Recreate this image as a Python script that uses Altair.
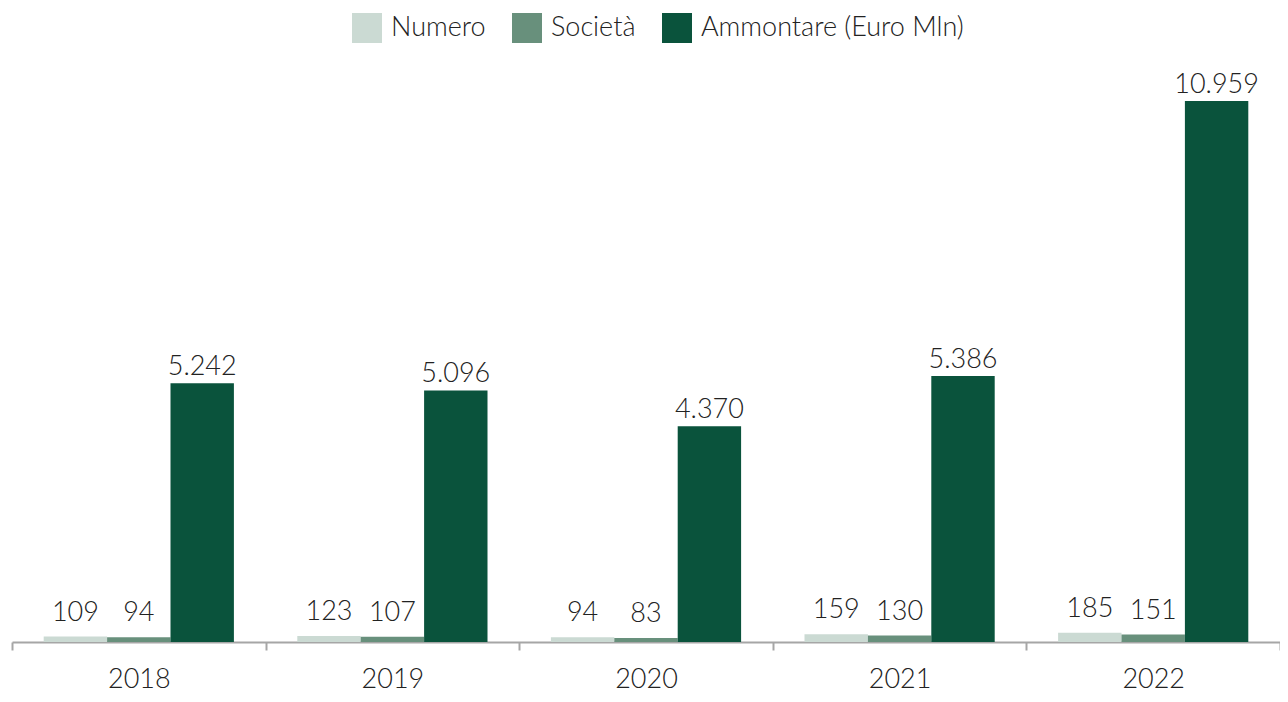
import altair as alt
import pandas as pd

years = ["2018", "2019", "2020", "2021", "2022"]
series = ["Numero", "Società", "Ammontare (Euro Mln)"]
numero = [109, 123, 94, 159, 185]
societa = [94, 107, 83, 130, 151]
ammontare = [5242, 5096, 4370, 5386, 10959]
colors = ["#cbdad3", "#68907c", "#0a533c"]

FONT = "Lato"
FS = 27


def fmt(v):
    return f"{v:,}".replace(",", ".")


rows = []
for i, yr in enumerate(years):
    for s, vals in zip(series, [numero, societa, ammontare]):
        rows.append({"Anno": yr, "Serie": s, "Valore": vals[i], "Etichetta": fmt(vals[i])})
df = pd.DataFrame(rows)

base = alt.Chart(df).encode(
    x=alt.X(
        "Anno:N",
        sort=years,
        scale=alt.Scale(paddingInner=0, paddingOuter=0),
        axis=alt.Axis(
            title=None,
            labelAngle=0,
            tickBand="extent",
            domainColor="#a6a6a6",
            domainWidth=2,
            tickColor="#a6a6a6",
            tickWidth=2,
            tickSize=8,
            labelFont=FONT,
            labelFontSize=FS,
            labelFontWeight=300,
            labelColor="#222222",
            labelPadding=16,
            grid=False,
        ),
    ),
    xOffset=alt.XOffset("Serie:N", sort=series, scale=alt.Scale(domain=series, paddingOuter=0.5, paddingInner=0)),
    y=alt.Y("Valore:Q", scale=alt.Scale(domain=[0, 11789], nice=False), axis=None),
)

bars = base.mark_bar().encode(
    color=alt.Color(
        "Serie:N",
        sort=series,
        scale=alt.Scale(domain=series, range=colors),
        legend=alt.Legend(
            title=None,
            orient="none",
            legendX=340,
            legendY=-47,
            direction="horizontal",
            symbolType="square",
            symbolSize=900,
            symbolStrokeWidth=0,
            labelFont=FONT,
            labelFontSize=FS,
            labelFontWeight=300,
            labelColor="#222222",
            labelOffset=9,
            labelLimit=0,
            columnPadding=26,
        ),
    )
)

text_style = dict(baseline="bottom", font=FONT, fontSize=FS, fontWeight=300, color="#222222")

labels_big = base.mark_text(dy=-2, **text_style).encode(text="Etichetta:N").transform_filter(
    alt.datum.Serie == "Ammontare (Euro Mln)"
)
labels_small = base.mark_text(dy=-10, **text_style).encode(text="Etichetta:N").transform_filter(
    alt.datum.Serie != "Ammontare (Euro Mln)"
)

chart = (
    alt.layer(bars, labels_big, labels_small)
    .properties(
        width=1268,
        height=582,
        autosize=alt.AutoSizeParams(type="none"),
        padding={"left": 4, "top": 52, "right": 0, "bottom": 52},
    )
    .configure_view(stroke=None)
)

chart.save("out.html", embed_options={"renderer": "svg", "actions": False})
